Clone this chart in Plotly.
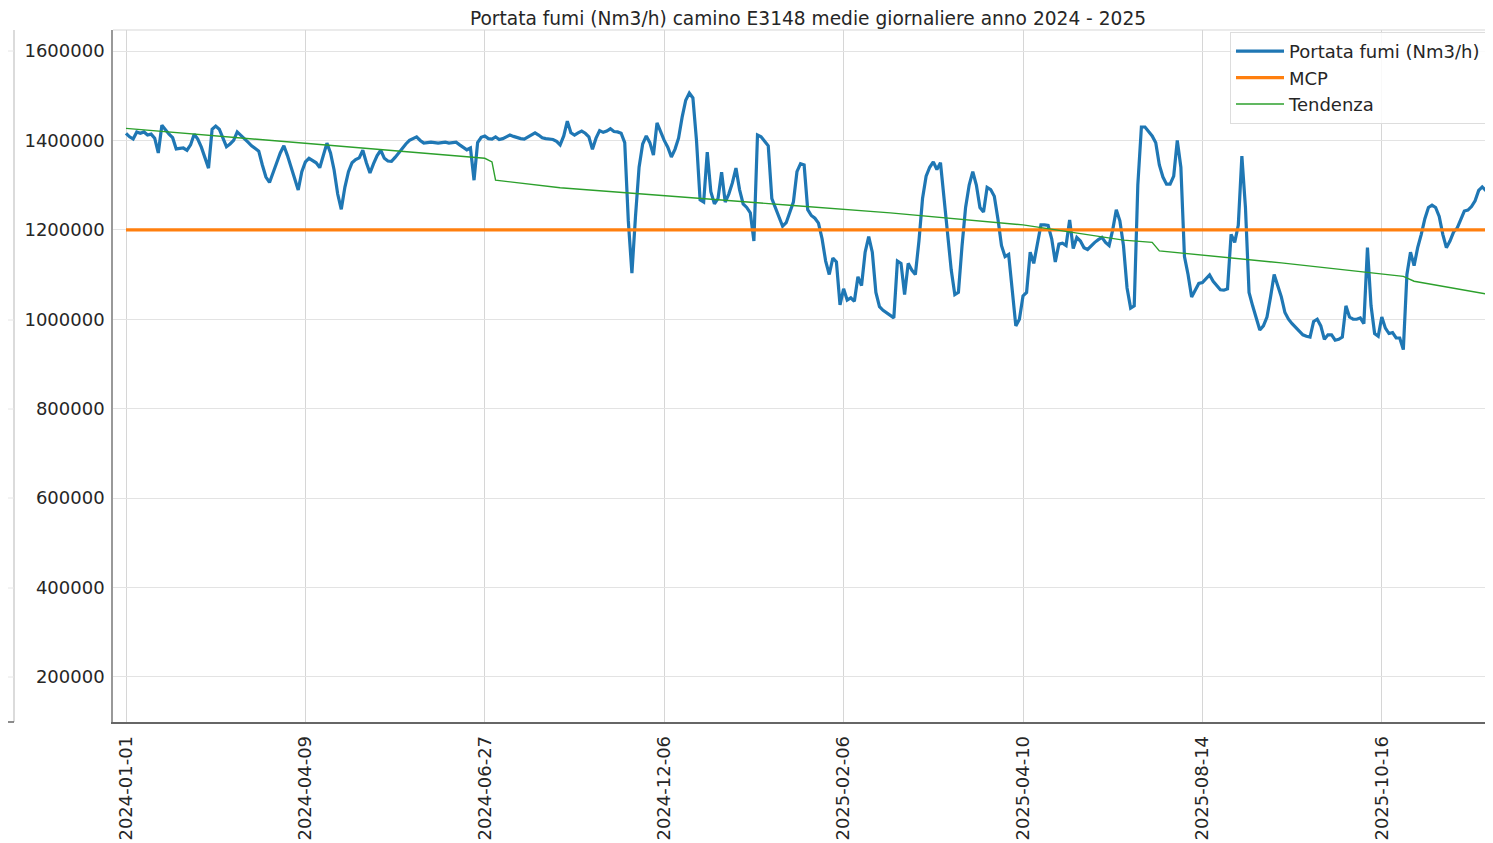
import pandas as pd
import plotly.graph_objects as go

# ---------------- data ----------------
tick_labels = ["2024-01-01", "2024-04-09", "2024-06-27", "2024-12-06",
               "2025-02-06", "2025-04-10", "2025-08-14", "2025-10-16"]
giorni_per_tratto = [50, 50, 50, 50, 50, 50, 50, 32]

dates = []
for start, n in zip(tick_labels, giorni_per_tratto):
    d0 = pd.Timestamp(start)
    dates += [(d0 + pd.Timedelta(days=j)).strftime("%Y-%m-%d") for j in range(n)]

portata = [
    1416000, 1408000, 1403000, 1419000, 1416000, 1419000, 1412000, 1414000, 1405000, 1372000,
    1434000, 1423000, 1414000, 1406000, 1381000, 1382000, 1383000, 1378000, 1390000, 1414000,
    1403000, 1385000, 1360000, 1338000, 1425000, 1432000, 1425000, 1405000, 1386000, 1392000,
    1400000, 1419000, 1412000, 1405000, 1396000, 1388000, 1382000, 1376000, 1345000, 1318000,
    1306000, 1330000, 1350000, 1372000, 1388000, 1366000, 1340000, 1310000, 1289000, 1330000,
    1352000, 1360000, 1354000, 1350000, 1339000, 1365000, 1394000, 1372000, 1334000, 1280000,
    1246000, 1295000, 1330000, 1350000, 1357000, 1361000, 1378000, 1350000, 1327000, 1348000,
    1366000, 1378000, 1360000, 1354000, 1353000, 1362000, 1372000, 1383000, 1392000, 1400000,
    1404000, 1408000, 1400000, 1394000, 1395000, 1396000, 1395000, 1394000, 1395000, 1396000,
    1394000, 1395000, 1396000, 1390000, 1384000, 1379000, 1383000, 1311000, 1395000, 1407000,
    1410000, 1404000, 1403000, 1408000, 1402000, 1404000, 1408000, 1412000, 1409000, 1406000,
    1404000, 1403000, 1408000, 1413000, 1417000, 1412000, 1406000, 1404000, 1403000, 1402000,
    1398000, 1390000, 1410000, 1443000, 1417000, 1412000, 1417000, 1421000, 1416000, 1408000,
    1380000, 1405000, 1422000, 1418000, 1421000, 1426000, 1420000, 1419000, 1416000, 1395000,
    1220000, 1103000, 1230000, 1340000, 1392000, 1410000, 1395000, 1367000, 1439000, 1418000,
    1400000, 1385000, 1363000, 1380000, 1405000, 1452000, 1490000, 1506000, 1495000, 1400000,
    1267000, 1262000, 1374000, 1285000, 1258000, 1270000, 1329000, 1262000, 1280000, 1305000,
    1338000, 1290000, 1258000, 1250000, 1238000, 1175000, 1412000, 1408000, 1398000, 1388000,
    1270000, 1248000, 1230000, 1208000, 1216000, 1240000, 1262000, 1330000, 1348000, 1345000,
    1245000, 1232000, 1226000, 1215000, 1180000, 1130000, 1100000, 1137000, 1128000, 1032000,
    1068000, 1043000, 1048000, 1040000, 1095000, 1075000, 1150000, 1185000, 1150000, 1060000,
    1028000, 1020000, 1014000, 1008000, 1003000, 1130000, 1125000, 1055000, 1125000, 1110000,
    1100000, 1175000, 1270000, 1320000, 1340000, 1352000, 1335000, 1350000, 1270000, 1200000,
    1110000, 1055000, 1060000, 1163000, 1250000, 1300000, 1330000, 1300000, 1250000, 1240000,
    1295000, 1290000, 1275000, 1225000, 1165000, 1140000, 1145000, 1065000, 985000, 1000000,
    1052000, 1060000, 1150000, 1125000, 1165000, 1211000, 1211000, 1210000, 1180000, 1128000,
    1168000, 1170000, 1165000, 1222000, 1158000, 1183000, 1175000, 1160000, 1156000, 1165000,
    1172000, 1178000, 1183000, 1172000, 1165000, 1200000, 1245000, 1220000, 1165000, 1070000,
    1025000, 1030000, 1300000, 1430000, 1430000, 1420000, 1410000, 1395000, 1345000, 1318000,
    1302000, 1302000, 1320000, 1400000, 1340000, 1140000, 1100000, 1050000, 1065000, 1080000,
    1082000, 1090000, 1099000, 1085000, 1075000, 1066000, 1065000, 1068000, 1190000, 1172000,
    1210000, 1365000, 1250000, 1060000, 1030000, 1005000, 976000, 985000, 1005000, 1050000,
    1100000, 1075000, 1050000, 1015000, 1000000, 990000, 982000, 972000, 965000, 962000,
    960000, 995000, 1000000, 985000, 955000, 965000, 965000, 953000, 955000, 960000,
    1030000, 1005000, 1000000, 1000000, 1003000, 990000, 1160000, 1030000, 968000, 962000,
    1005000, 980000, 968000, 970000, 958000, 958000, 932000, 1100000, 1150000, 1120000,
    1160000, 1190000, 1225000, 1250000, 1255000, 1250000, 1230000, 1190000, 1160000, 1175000,
    1195000, 1204000, 1225000, 1242000, 1244000, 1252000, 1265000, 1288000, 1296000, 1288000,
    1294000, 1296000,
]

mcp_value = 1200000

trend_dates = ["2024-01-01", "2024-06-27", "2024-06-29", "2024-06-30", "2024-07-18",
               "2024-12-13", "2025-01-10", "2025-02-19", "2025-04-10", "2025-05-08",
               "2025-05-16", "2025-05-18", "2025-09-05", "2025-10-22", "2025-10-25",
               "2025-11-16"]
trend_values = [1427000, 1360000, 1352000, 1311000, 1294000,
                1273000, 1255000, 1238000, 1211000, 1177000,
                1172000, 1153000, 1126000, 1096000, 1085000,
                1054000]

y_ticks = [200000, 400000, 600000, 800000, 1000000, 1200000, 1400000, 1600000]

# ---------------- figure ----------------
OFF = 8                      # page body margin of the html page
W, H = 1493 - OFF, 843 - OFF
L, R, T, B = 105, 0, 22, 121
PW, PH = W - L - R, H - T - B
FONT = "DejaVu Sans"


def px_x(p):
    """screen pixel x -> paper coordinate"""
    return (p - OFF - L) / PW


def px_y(p):
    """screen pixel y -> paper coordinate"""
    return (H - B - (p - OFF)) / PH


fig = go.Figure()
fig.add_trace(go.Scatter(
    x=dates, y=portata, mode="lines", name="Portata fumi (Nm3/h)",
    line=dict(color="#1f77b4", width=3.2),
))
fig.add_trace(go.Scatter(
    x=[dates[0], dates[-1]], y=[mcp_value, mcp_value], mode="lines", name="MCP",
    line=dict(color="#ff7f0e", width=3.2),
))
fig.add_trace(go.Scatter(
    x=trend_dates, y=trend_values, mode="lines", name="Tendenza",
    line=dict(color="#2ca02c", width=1.4),
))

shapes = [
    # top frame line of the axes
    dict(type="line", xref="paper", yref="paper", x0=0, x1=1, y0=1, y1=1,
         line=dict(color="#d8d8d8", width=1.2)),
    # remnants of a neighbouring chart at the left edge
    dict(type="line", xref="paper", yref="paper", x0=px_x(14), x1=px_x(14),
         y0=px_y(30), y1=px_y(722), line=dict(color="#cfcfcf", width=1.5)),
    dict(type="line", xref="paper", yref="paper", x0=px_x(8), x1=px_x(14),
         y0=px_y(722), y1=px_y(722), line=dict(color="#666666", width=1.5)),
]
for gy in [51, 320, 409, 498, 588, 677]:
    shapes.append(dict(type="line", xref="paper", yref="paper", x0=px_x(8), x1=px_x(14),
                       y0=px_y(gy), y1=px_y(gy), line=dict(color="#e6e6e6", width=1)))

fig.update_layout(
    width=W, height=H,
    margin=dict(l=L, r=R, t=T, b=B, autoexpand=False),
    paper_bgcolor="white", plot_bgcolor="white",
    font=dict(family=FONT, size=18, color="#262626"),
    title=dict(
        text="Portata fumi (Nm3/h) camino E3148 medie giornaliere anno 2024 - 2025",
        x=(808 - OFF) / W, xanchor="center", xref="container",
        y=1 - (18 - OFF) / H, yanchor="middle", yref="container",
        font=dict(family=FONT, size=18.6, color="#262626"),
    ),
    showlegend=True,
    legend=dict(
        x=px_x(1230), y=px_y(32), xanchor="left", yanchor="top",
        bgcolor="rgba(255,255,255,0.85)", bordercolor="#dddddd", borderwidth=1,
        font=dict(family=FONT, size=18, color="#262626"),
        tracegroupgap=0, itemwidth=48,
    ),
    shapes=shapes,
)

fig.update_xaxes(
    type="category", categoryorder="array", categoryarray=dates,
    range=[-(126 - OFF - L) / 3.588, (1493 - 126) / 3.588],
    tickmode="array", tickvals=tick_labels, ticktext=tick_labels,
    tickangle=-90, ticks="outside", ticklen=5, tickcolor="rgba(0,0,0,0)",
    tickfont=dict(family=FONT, size=18, color="#262626"),
    showgrid=True, gridcolor="#d6d6d6", gridwidth=1,
    showline=True, linecolor="#666666", linewidth=1.5,
    zeroline=False, automargin=False,
)
fig.update_yaxes(
    range=[99000, 1647000],
    tickmode="array", tickvals=y_ticks, tickformat="d",
    ticks="outside", ticklen=3, tickcolor="rgba(0,0,0,0)",
    tickfont=dict(family=FONT, size=18, color="#262626"),
    showgrid=True, gridcolor="#e3e3e3", gridwidth=1,
    showline=True, linecolor="#999999", linewidth=1.5,
    zeroline=False, automargin=False,
)

fig.write_html("out.html")
